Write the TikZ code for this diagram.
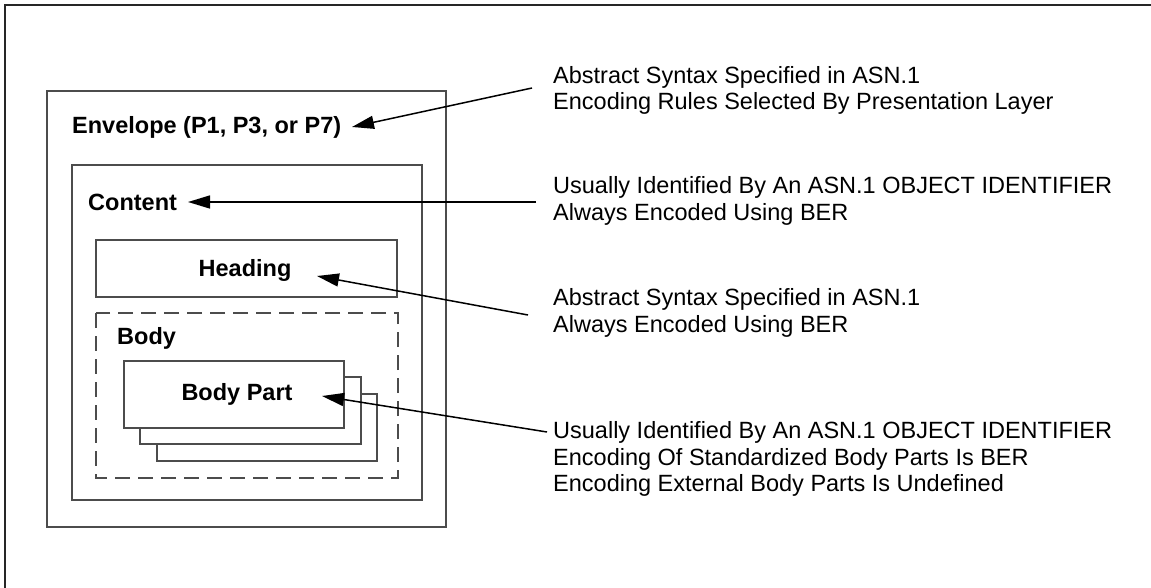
\documentclass[tikz,border=0pt]{standalone}
\usepackage{fontspec}
\setmainfont{Liberation Sans}
\usetikzlibrary{arrows.meta}

\tikzset{
    box/.style={draw=black!70, line width=1.3pt},
    lbl/.style={font=\bfseries\fontsize{23.5}{27}\selectfont, inner sep=0pt},
    note/.style={font=\fontsize{23.5}{26.5}\selectfont, align=left, anchor=west, inner sep=0pt},
    ptr/.style={line width=1.5pt, -{Triangle[length=22pt, width=13pt]}},
}

\begin{document}
\begin{tikzpicture}[x=1pt, y=-1pt]
    \useasboundingbox (0,0) rectangle (1151,588);
    \draw[line width=2.2pt, black!85] (5,588) -- (5,5) -- (1151,5);

    \draw[box] (47,91) rectangle (446,527);
    \draw[box] (72,165) rectangle (422,500);
    \draw[box] (96,240) rectangle (397,297);
    \draw[box, dash pattern=on 15pt off 8pt] (96,313) rectangle (398,478);
    \draw[box, fill=white] (157,394) rectangle (377,461);
    \draw[box, fill=white] (140,377) rectangle (361,444);
    \draw[box, fill=white] (124,361) rectangle (344,428);

    \node[lbl, anchor=west] (envelope) at (72, 127) {Envelope (P1, P3, or P7)};
    \node[lbl, anchor=west] (content) at (88, 202) {Content};
    \node[lbl] (heading) at (245, 270) {Heading};
    \node[lbl, anchor=west] (body) at (117, 338) {Body};
    \node[lbl] (bodypart) at (237, 394) {Body Part};

    \node[note] (envnote) at (553, 90.5) {Abstract Syntax Specified in ASN.1\\Encoding Rules Selected By Presentation Layer};
    \node[note] (contnote) at (553, 201) {Usually Identified By An ASN.1 OBJECT IDENTIFIER\\Always Encoded Using BER};
    \node[note] (headnote) at (553, 313) {Abstract Syntax Specified in ASN.1\\Always Encoded Using BER};
    \node[note] (partnote) at (553, 459) {Usually Identified By An ASN.1 OBJECT IDENTIFIER\\Encoding Of Standardized Body Parts Is BER\\Encoding External Body Parts Is Undefined};

    \coordinate (envtail) at (532, 88);
    \coordinate (envtip) at (352, 127);
    \coordinate (conttail) at (536, 202);
    \coordinate (conttip) at (188, 202);
    \coordinate (headtail) at (528, 315);
    \coordinate (headtip) at (317, 276);
    \coordinate (parttail) at (547, 432);
    \coordinate (parttip) at (322, 396);

    \draw[ptr] (envtail) -- (envtip);
    \draw[ptr] (conttail) -- (conttip);
    \draw[ptr] (headtail) -- (headtip);
    \draw[ptr] (parttail) -- (parttip);
\end{tikzpicture}
\end{document}
